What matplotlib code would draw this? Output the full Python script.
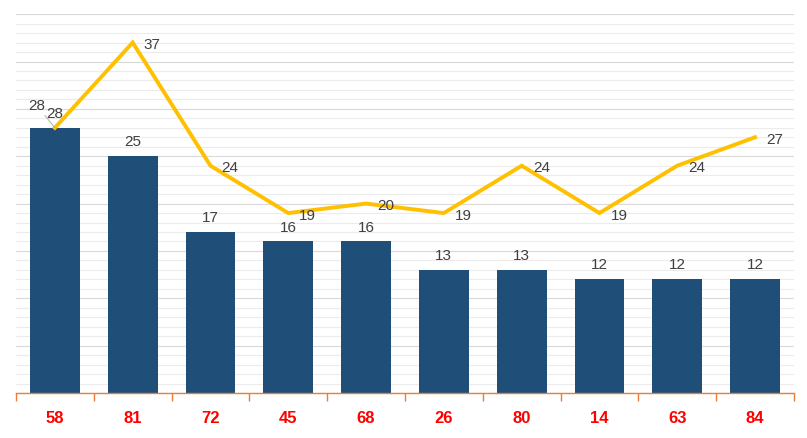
import matplotlib.pyplot as plt
from matplotlib.ticker import MultipleLocator

categories = ["58", "81", "72", "45", "68", "26", "80", "14", "63", "84"]
bar_values = [28, 25, 17, 16, 16, 13, 13, 12, 12, 12]
line_values = [28, 37, 24, 19, 20, 19, 24, 19, 24, 27]

plt.rcParams['font.family'] = ['Liberation Sans', 'DejaVu Sans']

fig = plt.figure(figsize=(8.07, 4.38), dpi=100)
ax = fig.add_axes([0.0198, 0.1027, 0.964, 0.865])

x = list(range(len(categories)))
ax.bar(x, bar_values, width=0.64, color='#1F4E79', zorder=2)
ax.plot(x, line_values, color='#FFC000', linewidth=2.8, zorder=3, solid_joinstyle='miter')

# bar labels
for xi, v in zip(x, bar_values):
    ax.annotate(str(v), (xi, v), xytext=(0, 5), textcoords='offset points',
                ha='center', va='bottom', fontsize=11, color='#404040')

# line labels
for i, (xi, v) in enumerate(zip(x, line_values)):
    if i == 0:
        ax.annotate(str(v), (xi, v), xytext=(-19, 16), textcoords='offset points',
                    ha='left', va='center', fontsize=11, color='#404040',
                    arrowprops=dict(arrowstyle='-', color='#a6a6a6', lw=0.6,
                                    shrinkA=0, shrinkB=0))
    else:
        ax.annotate(str(v), (xi, v), xytext=(8, -2), textcoords='offset points',
                    ha='left', va='center', fontsize=11, color='#404040')

ax.set_xlim(-0.5, len(categories) - 0.5)
ax.set_ylim(0, 40)
ax.yaxis.set_major_locator(MultipleLocator(5))
ax.yaxis.set_minor_locator(MultipleLocator(1))
ax.grid(axis='y', which='major', color='#d9d9d9', linewidth=0.8, zorder=0)
ax.grid(axis='y', which='minor', color='#ececec', linewidth=0.8, zorder=0)
ax.set_axisbelow(True)
ax.tick_params(axis='y', which='both', length=0, labelleft=False)

ax.set_xticks(x)
ax.set_xticklabels(categories, color='#FF0000', fontweight='bold', fontsize=12)
ax.set_xticks([i - 0.5 for i in range(len(categories) + 1)], minor=True)
ax.tick_params(axis='x', which='major', length=0, pad=13)
ax.tick_params(axis='x', which='minor', length=6, color='#ED7D31', width=1)

for s in ['top', 'right', 'left']:
    ax.spines[s].set_visible(False)
ax.spines['bottom'].set_color('#ED7D31')
ax.spines['bottom'].set_linewidth(1)

fig.savefig('out.png', dpi=100)
